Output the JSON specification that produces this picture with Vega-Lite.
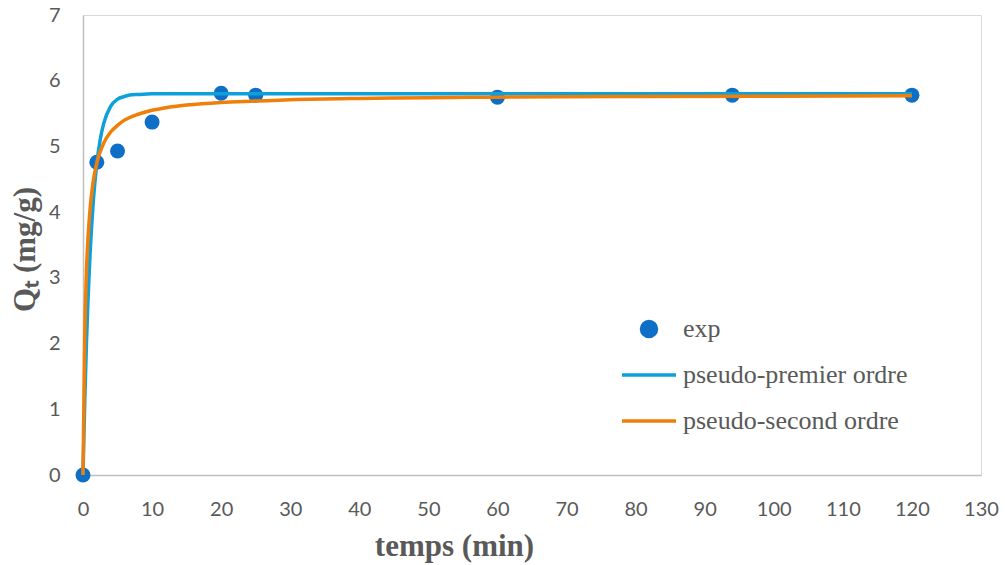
{
  "$schema": "https://vega.github.io/schema/vega-lite/v6.json",
  "width": 898,
  "height": 460,
  "autosize": {"type": "none"},
  "padding": {"left": 83, "top": 15, "right": 24, "bottom": 90},
  "background": "white",
  "config": {
    "view": {"stroke": "#d9d9d9", "strokeWidth": 1},
    "axis": {
      "grid": false,
      "ticks": false,
      "tickSize": 0,
      "labelFlush": false,
      "domainColor": "#bfbfbf",
      "domainWidth": 1.5,
      "labelFont": "Lato",
      "labelFontSize": 20,
      "labelColor": "#595959",
      "titleFont": "Liberation Serif",
      "titleFontSize": 31,
      "titleFontWeight": "bold",
      "titleColor": "#595959"
    },
    "legend": {
      "title": null,
      "orient": "none",
      "legendX": 537,
      "legendY": 291,
      "padding": 0,
      "symbolSize": 2916,
      "clipHeight": 46,
      "rowPadding": 0,
      "labelOffset": 5,
      "labelFont": "Liberation Serif",
      "labelFontSize": 26,
      "labelColor": "#595959",
      "labelLimit": 400
    }
  },
  "datasets": {
    "exp": [
      {"t": 0, "q": 0},
      {"t": 2, "q": 4.76},
      {"t": 5, "q": 4.93},
      {"t": 10, "q": 5.37},
      {"t": 20, "q": 5.81},
      {"t": 25, "q": 5.78},
      {"t": 60, "q": 5.75},
      {"t": 94, "q": 5.78},
      {"t": 120, "q": 5.78}
    ],
    "fit": [
      {"t": 0, "q": 0, "series": "pseudo-premier ordre"},
      {"t": 0.25, "q": 1.11, "series": "pseudo-premier ordre"},
      {"t": 0.5, "q": 2.01, "series": "pseudo-premier ordre"},
      {"t": 1, "q": 3.32, "series": "pseudo-premier ordre"},
      {"t": 1.5, "q": 4.18, "series": "pseudo-premier ordre"},
      {"t": 2, "q": 4.74, "series": "pseudo-premier ordre"},
      {"t": 2.5, "q": 5.11, "series": "pseudo-premier ordre"},
      {"t": 3, "q": 5.35, "series": "pseudo-premier ordre"},
      {"t": 4, "q": 5.61, "series": "pseudo-premier ordre"},
      {"t": 5, "q": 5.72, "series": "pseudo-premier ordre"},
      {"t": 6, "q": 5.76, "series": "pseudo-premier ordre"},
      {"t": 7, "q": 5.785, "series": "pseudo-premier ordre"},
      {"t": 8, "q": 5.79, "series": "pseudo-premier ordre"},
      {"t": 10, "q": 5.8, "series": "pseudo-premier ordre"},
      {"t": 15, "q": 5.8, "series": "pseudo-premier ordre"},
      {"t": 20, "q": 5.8, "series": "pseudo-premier ordre"},
      {"t": 40, "q": 5.8, "series": "pseudo-premier ordre"},
      {"t": 60, "q": 5.8, "series": "pseudo-premier ordre"},
      {"t": 80, "q": 5.8, "series": "pseudo-premier ordre"},
      {"t": 100, "q": 5.8, "series": "pseudo-premier ordre"},
      {"t": 120, "q": 5.8, "series": "pseudo-premier ordre"},
      {"t": 0, "q": 0, "series": "pseudo-second ordre"},
      {"t": 0.25, "q": 2.1, "series": "pseudo-second ordre"},
      {"t": 0.5, "q": 3.08, "series": "pseudo-second ordre"},
      {"t": 1, "q": 4.02, "series": "pseudo-second ordre"},
      {"t": 1.5, "q": 4.48, "series": "pseudo-second ordre"},
      {"t": 2, "q": 4.75, "series": "pseudo-second ordre"},
      {"t": 3, "q": 5.05, "series": "pseudo-second ordre"},
      {"t": 4, "q": 5.22, "series": "pseudo-second ordre"},
      {"t": 5, "q": 5.32, "series": "pseudo-second ordre"},
      {"t": 6, "q": 5.4, "series": "pseudo-second ordre"},
      {"t": 8, "q": 5.49, "series": "pseudo-second ordre"},
      {"t": 10, "q": 5.55, "series": "pseudo-second ordre"},
      {"t": 12, "q": 5.59, "series": "pseudo-second ordre"},
      {"t": 15, "q": 5.63, "series": "pseudo-second ordre"},
      {"t": 20, "q": 5.67, "series": "pseudo-second ordre"},
      {"t": 25, "q": 5.69, "series": "pseudo-second ordre"},
      {"t": 30, "q": 5.71, "series": "pseudo-second ordre"},
      {"t": 40, "q": 5.73, "series": "pseudo-second ordre"},
      {"t": 50, "q": 5.74, "series": "pseudo-second ordre"},
      {"t": 60, "q": 5.75, "series": "pseudo-second ordre"},
      {"t": 80, "q": 5.76, "series": "pseudo-second ordre"},
      {"t": 100, "q": 5.765, "series": "pseudo-second ordre"},
      {"t": 120, "q": 5.77, "series": "pseudo-second ordre"}
    ]
  },
  "encoding": {
    "x": {
      "field": "t",
      "type": "quantitative",
      "scale": {"domain": [0, 130], "nice": false},
      "axis": {
        "title": "temps (min)",
        "values": [0, 10, 20, 30, 40, 50, 60, 70, 80, 90, 100, 110, 120, 130],
        "labelBaseline": "alphabetic",
        "labelPadding": 40,
        "titleX": 371,
        "titleY": 80,
        "titleAlign": "center",
        "titleBaseline": "alphabetic"
      }
    },
    "y": {
      "field": "q",
      "type": "quantitative",
      "scale": {"domain": [0, 7], "nice": false},
      "axis": {
        "title": "Qₜ (mg/g)",
        "values": [0, 1, 2, 3, 4, 5, 6, 7],
        "labelPadding": 23,
        "titleX": -49,
        "titleY": 234,
        "titleAngle": 270,
        "titleAlign": "center",
        "titleBaseline": "alphabetic"
      }
    }
  },
  "layer": [
    {
      "data": {"name": "exp"},
      "mark": {"type": "point", "shape": "circle", "filled": true, "size": 225, "opacity": 1},
      "encoding": {
        "color": {
          "datum": "exp",
          "type": "nominal",
          "scale": {
            "domain": ["exp", "pseudo-premier ordre", "pseudo-second ordre"],
            "range": ["#0f6fc6", "#0ea0db", "#f07f09"]
          },
          "legend": {
            "title": null,
            "encode": {
              "symbols": {
                "update": {
                  "shape": {"signal": "datum.value === 'exp' ? 'circle' : 'stroke'"},
                  "fill": {"signal": "datum.value === 'exp' ? '#0f6fc6' : 'transparent'"},
                  "stroke": {"signal": "datum.value === 'exp' ? 'transparent' : (datum.value === 'pseudo-premier ordre' ? '#0ea0db' : '#f07f09')"},
                  "strokeWidth": {"value": 3.5},
                  "size": {"signal": "datum.value === 'exp' ? 225 : 2916"},
                  "opacity": {"value": 1},
                  "fillOpacity": {"value": 1},
                  "strokeOpacity": {"value": 1}
                }
              }
            }
          }
        }
      }
    },
    {
      "data": {"name": "fit"},
      "mark": {"type": "line", "strokeWidth": 3.5, "interpolate": "monotone"},
      "encoding": {
        "color": {
          "field": "series",
          "type": "nominal",
          "legend": {
            "title": null,
            "encode": {
              "symbols": {
                "update": {
                  "shape": {"signal": "datum.value === 'exp' ? 'circle' : 'stroke'"},
                  "fill": {"signal": "datum.value === 'exp' ? '#0f6fc6' : 'transparent'"},
                  "stroke": {"signal": "datum.value === 'exp' ? 'transparent' : (datum.value === 'pseudo-premier ordre' ? '#0ea0db' : '#f07f09')"},
                  "strokeWidth": {"value": 3.5},
                  "size": {"signal": "datum.value === 'exp' ? 225 : 2916"},
                  "opacity": {"value": 1},
                  "fillOpacity": {"value": 1},
                  "strokeOpacity": {"value": 1}
                }
              }
            }
          }
        }
      }
    }
  ]
}
